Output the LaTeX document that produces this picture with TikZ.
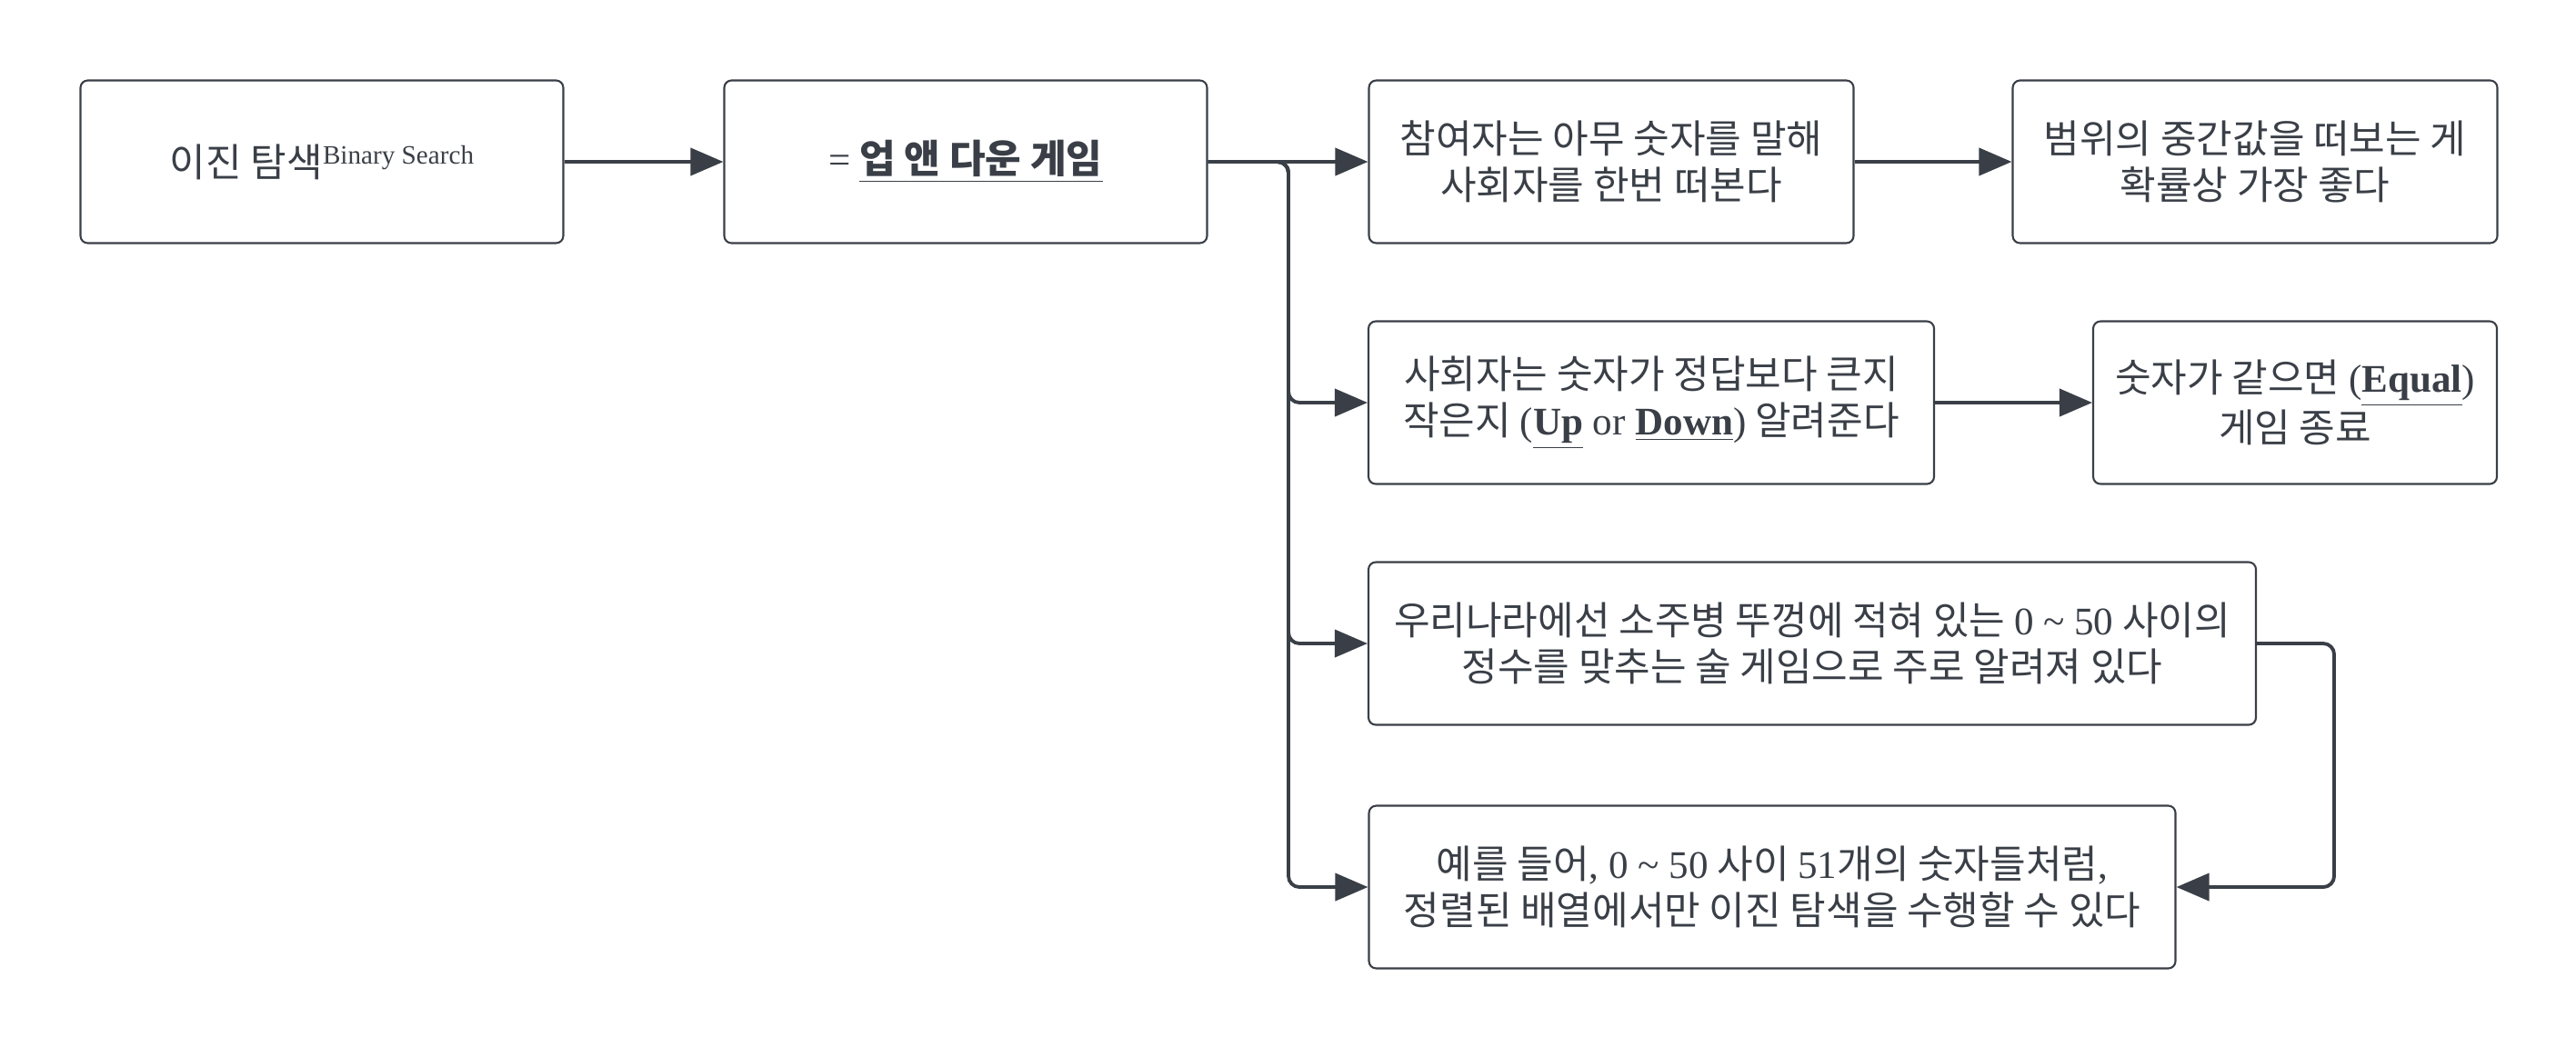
\documentclass[tikz,border=0pt]{standalone}
\usepackage{fontspec}
\setmainfont{Liberation Serif}
\newfontfamily\kr{Noto Sans CJK KR}
\usetikzlibrary{arrows.meta}
\definecolor{ink}{HTML}{3A3F47}
\newcommand{\en}[1]{{\rmfamily #1}}

\begin{document}
\begin{tikzpicture}[>={Triangle[length=0.36cm,width=0.3cm]},
	box/.style={draw=ink, line width=0.6pt, rounded corners=0.08cm, minimum height=1.79cm,
		align=center, text=ink, inner sep=0pt, font=\kr\fontsize{12.25}{14.6}\selectfont},
	conn/.style={->, draw=ink, line width=1.1pt, rounded corners=0.12cm}]
	\def\Yone{-1.78}  % row heights
	\def\Ytwo{-4.43}
	\def\Ythree{-7.08}
	\def\Yfour{-9.76}
	
	\useasboundingbox (0,0) rectangle (28.33,-11.51);
	
	% Top row
	\node[box, minimum width=5.31cm] (binsearch) at (3.54,\Yone)
		{이진 탐색\raisebox{4pt}{\en{\fontsize{8.3}{9}\selectfont Binary Search}}};
	\node[box, minimum width=5.31cm] (updown) at (10.62,\Yone)
		{\en{=} \textbf{\underline{업 앤 다운 게임}}};
	\node[box, minimum width=5.33cm] (guess) at (17.72,\Yone)
		{참여자는 아무 숫자를 말해\\사회자를 한번 떠본다};
	\node[box, minimum width=5.33cm] (middle) at (24.80,\Yone)
		{범위의 중간값을 떠보는 게\\확률상 가장 좋다};
	
	% Branches
	\node[box, minimum width=6.22cm] (hint) at (18.16,\Ytwo)
		{사회자는 숫자가 정답보다 큰지\\작은지 \en{(\textbf{\underline{Up}} or \textbf{\underline{Down}})} 알려준다};
	\node[box, minimum width=4.44cm] (equal) at (25.24,\Ytwo)
		{숫자가 같으면 \en{(\textbf{\underline{Equal}})}\\게임 종료};
	\node[box, minimum width=9.76cm] (soju) at (19.93,\Ythree)
		{우리나라에선 소주병 뚜껑에 적혀 있는 \en{0 \textasciitilde{} 50} 사이의\\정수를 맞추는 술 게임으로 주로 알려져 있다};
	\node[box, minimum width=8.87cm] (sorted) at (19.49,\Yfour)
		{예를 들어\en{, 0 \textasciitilde{} 50} 사이 \en{51}개의 숫자들처럼\en{,}\\정렬된 배열에서만 이진 탐색을 수행할 수 있다};
	
	% Connectors
	\coordinate (split) at (14.17,\Yone);
	\coordinate (loop) at (25.67,\Ythree);
	\draw[conn] (binsearch) -- (updown);
	\draw[conn] (updown) -- (guess);
	\draw[conn] (guess) -- (middle);
	\draw[conn] (hint) -- (equal);
	\draw[conn] (updown.east) -- (split) |- (hint.west);
	\draw[conn] (updown.east) -- (split) |- (soju.west);
	\draw[conn] (updown.east) -- (split) |- (sorted.west);
	\draw[conn] (soju.east) -- (loop) |- (sorted.east);
	
\end{tikzpicture}
\end{document}
